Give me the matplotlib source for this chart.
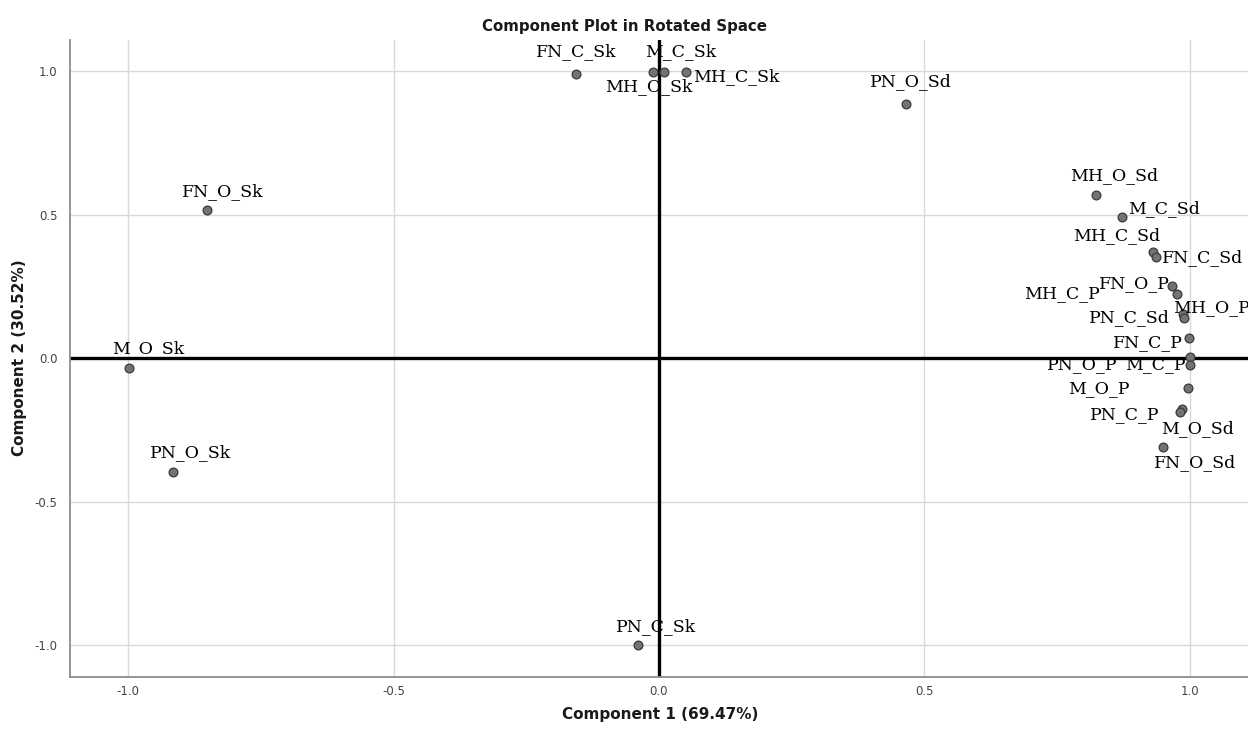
import numpy as np
import matplotlib
matplotlib.use("Agg")
import matplotlib.pyplot as plt

# rotated component loadings
names = ["FN_C_Sk", "MH_O_Sk", "M_C_Sk", "MH_C_Sk", "PN_O_Sd", "FN_O_Sk",
         "M_O_Sk", "PN_O_Sk", "PN_C_Sk", "MH_O_Sd", "M_C_Sd", "MH_C_Sd",
         "FN_C_Sd", "FN_O_P", "MH_C_P", "MH_O_P", "PN_C_Sd", "FN_C_P",
         "PN_O_P", "M_C_P", "M_O_P", "PN_C_P", "M_O_Sd", "FN_O_Sd"]
comp1 = [-0.156, -0.011, 0.009, 0.051, 0.466, -0.852,
         -0.999, -0.916, -0.040, 0.824, 0.873, 0.931,
         0.937, 0.967, 0.976, 0.988, 0.990, 0.999,
         1.000, 1.000, 0.996, 0.985, 0.981, 0.949]
comp2 = [0.990, 0.997, 0.997, 0.997, 0.885, 0.516,
         -0.035, -0.397, -1.000, 0.568, 0.491, 0.369,
         0.352, 0.251, 0.223, 0.153, 0.139, 0.070,
         0.003, -0.024, -0.105, -0.178, -0.188, -0.310]

# label placement (pixel offset from point, horizontal alignment)
label_pos = {
    "FN_C_Sk": (0, 22, "center"), "MH_O_Sk": (-4, -15, "center"),
    "M_C_Sk": (17, 20, "center"), "MH_C_Sk": (7, -5, "left"),
    "PN_O_Sd": (5, 22, "center"), "FN_O_Sk": (16, 18, "center"),
    "M_O_Sk": (19, 20, "center"), "PN_O_Sk": (18, 20, "center"),
    "PN_C_Sk": (18, 19, "center"), "MH_O_Sd": (18, 19, "center"),
    "M_C_Sd": (6, 9, "left"), "MH_C_Sd": (-36, 17, "center"),
    "FN_C_Sd": (6, 0, "left"), "FN_O_P": (-2, 3, "right"),
    "MH_C_P": (-77, 1, "right"), "MH_O_P": (-10, 7, "left"),
    "PN_C_Sd": (-14, 1, "right"), "FN_C_P": (-6, -4, "right"),
    "PN_O_P": (-107, -7, "center"), "M_C_P": (-34, 1, "center"),
    "M_O_P": (-89, 0, "center"), "PN_C_P": (-22, -5, "right"),
    "M_O_Sd": (18, -16, "center"), "FN_O_Sd": (33, -15, "center"),
}

fig = plt.figure(figsize=(12.48, 7.31), dpi=100)
ax = fig.add_axes([70 / 1248, 1 - 677 / 731, 1 - 70 / 1248, (677 - 40) / 731])

ax.set_xlim(-1.11, 1.11)
ax.set_ylim(-1.11, 1.108)
ticks = [-1.0, -0.5, 0.0, 0.5, 1.0]
ax.set_xticks(ticks)
ax.set_yticks(ticks)
ax.set_xticklabels(["%.1f" % t for t in ticks])
ax.set_yticklabels(["%.1f" % t for t in ticks])
ax.tick_params(length=0, labelsize=8.5, labelcolor="#444444")
ax.tick_params(axis="x", pad=6)
ax.tick_params(axis="y", pad=9)
ax.grid(True, color="#d9d9d9", lw=1.0)
ax.set_axisbelow(True)

for s in ["top", "right"]:
    ax.spines[s].set_visible(False)
for s in ["left", "bottom"]:
    ax.spines[s].set_color("#8c8c8c")
    ax.spines[s].set_linewidth(1.3)

ax.axhline(0, color="black", lw=2.4, zorder=2)
ax.axvline(0, color="black", lw=2.4, zorder=2)

ax.scatter(comp1, comp2, s=40, color="#737373", edgecolors="#3a3a3a",
           linewidths=0.9, zorder=4)

for n, x, y in zip(names, comp1, comp2):
    dx, dy, ha = label_pos[n]
    ax.annotate(n, (x, y), xytext=(dx, dy), textcoords="offset pixels",
                ha=ha, va="center", fontsize=12.5, family="DejaVu Serif",
                color="black", zorder=5, annotation_clip=False)

fig.text(625 / 1248, 1 - 27 / 731, "Component Plot in Rotated Space", ha="center",
         va="center", fontsize=10.8, fontweight="bold", color="#1a1a1a")
fig.text(660 / 1248, 1 - 715 / 731, "Component 1 (69.47%)", ha="center",
         va="center", fontsize=11, fontweight="bold", color="#1a1a1a")
fig.text(20 / 1248, 1 - 358 / 731, "Component 2 (30.52%)", ha="center",
         va="center", rotation=90, fontsize=11, fontweight="bold", color="#1a1a1a")

fig.savefig("out.png", dpi=100)
